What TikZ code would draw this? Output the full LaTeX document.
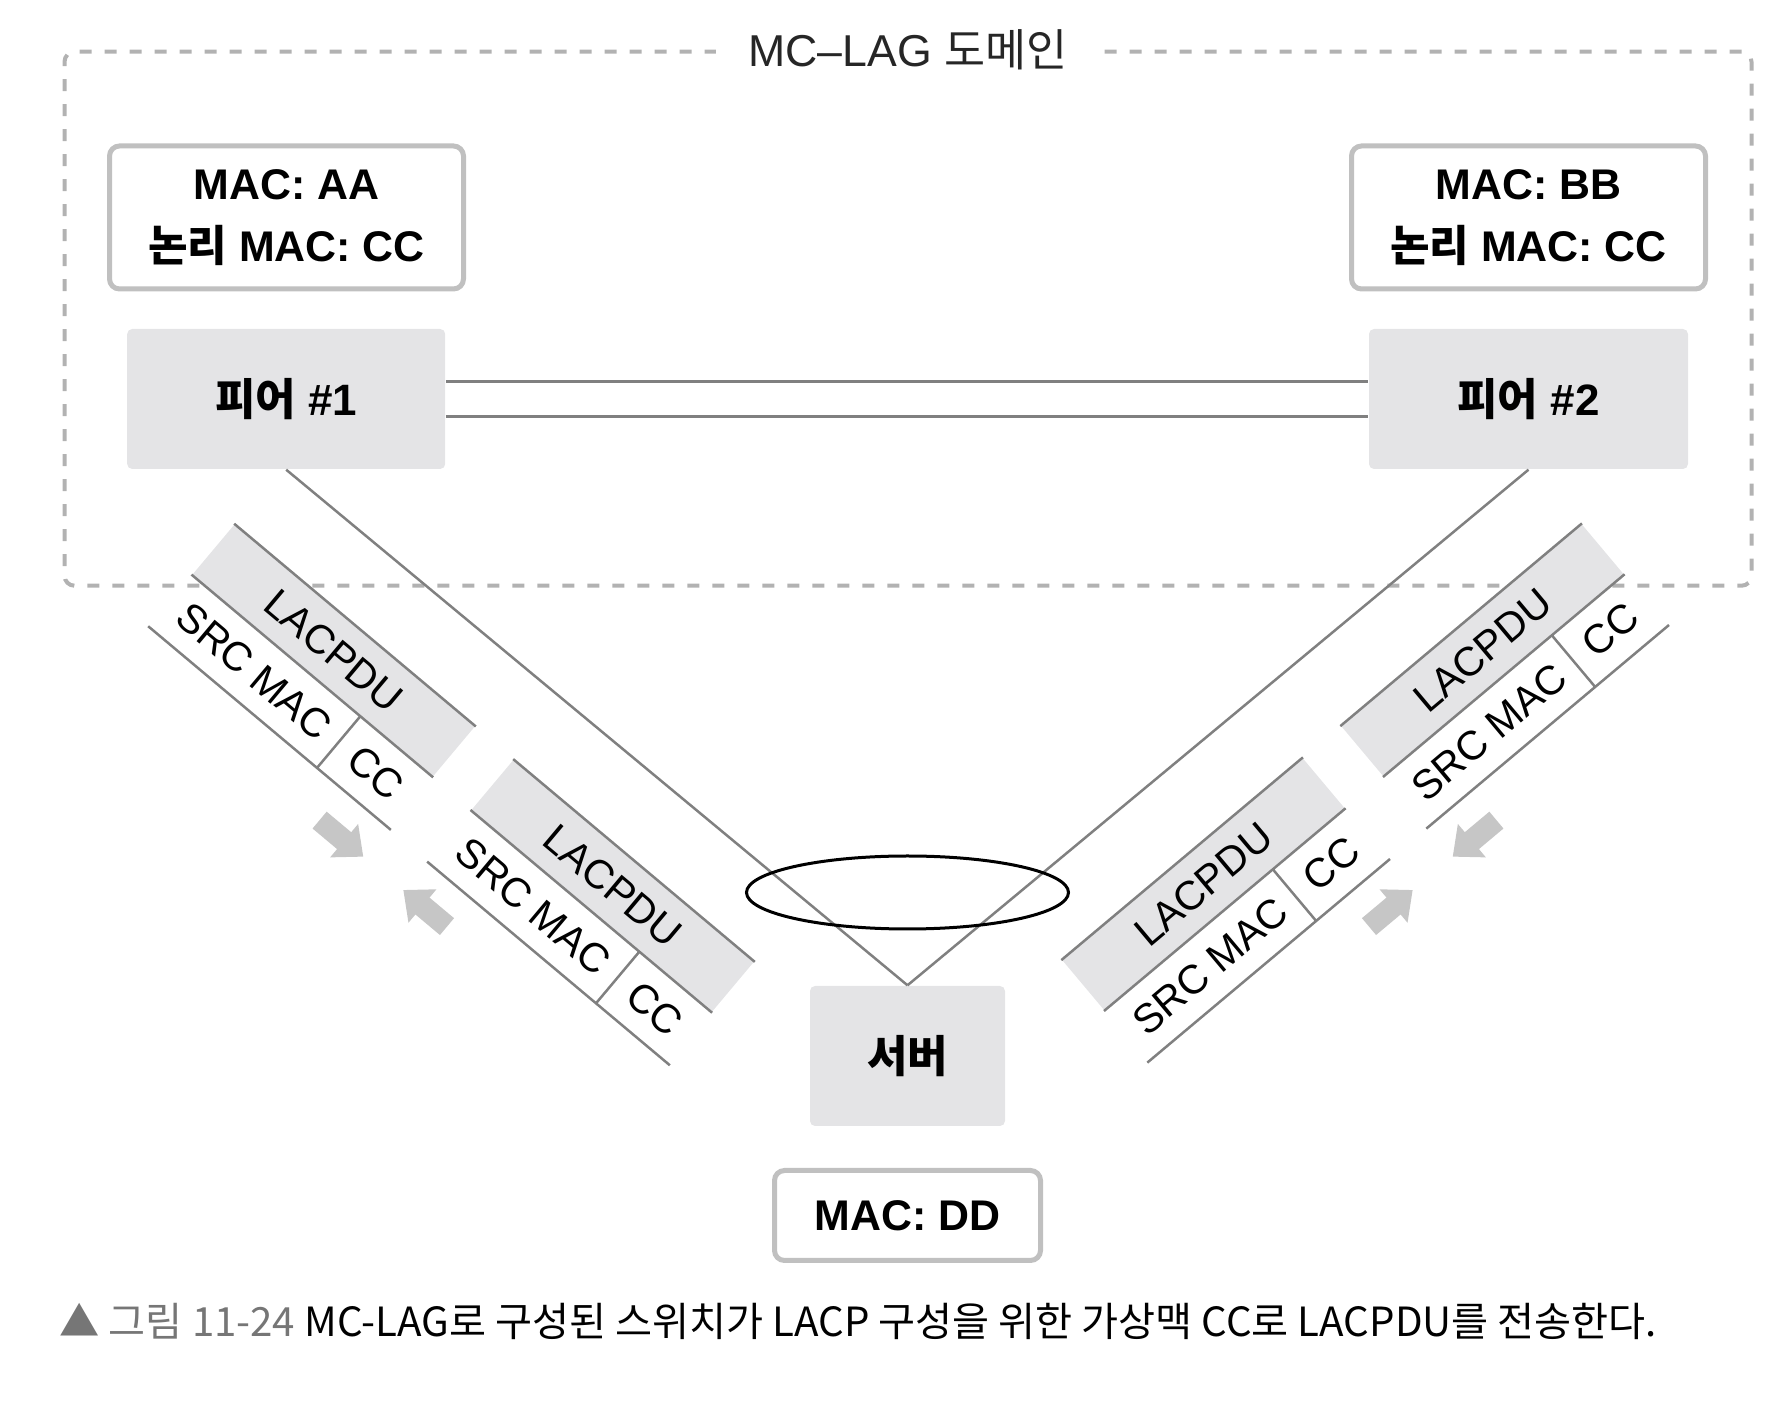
\documentclass[tikz,border=0pt]{standalone}
\usepackage{fontspec}
\setmainfont{Liberation Sans}
\newfontfamily\kr{Noto Sans CJK KR}
\usetikzlibrary{arrows.meta,shapes.geometric}
\definecolor{devgray}{RGB}{228,228,230}
\definecolor{edgegray}{RGB}{192,192,192}
\definecolor{dashgray}{RGB}{178,178,178}
\definecolor{wiregray}{RGB}{128,128,128}
\definecolor{arrowgray}{RGB}{198,198,198}
\definecolor{capgray}{RGB}{118,118,118}

\begin{document}
\begin{tikzpicture}[x=0.1mm, y=-0.1mm,
  lagzone/.style={draw=dashgray, line width=0.4mm, dash pattern=on 1.2mm off 1.3mm, rounded corners=1mm, minimum width=168.7mm, minimum height=53.4mm},
  zonetitle/.style={fill=white, inner xsep=3.2mm, text=black!85, font=\fontsize{12.7}{15}\selectfont},
  macbox/.style={draw=edgegray, line width=0.5mm, rounded corners=1mm, fill=white, align=center, font=\bfseries\fontsize{12.2}{17.6}\selectfont},
  device/.style={fill=devgray, rounded corners=0.5mm, minimum height=14mm, font=\bfseries\fontsize{12.5}{15}\selectfont},
  wire/.style={draw=wiregray, line width=0.25mm},
  lag/.style={draw=black, ellipse, line width=0.3mm, minimum width=32.2mm, minimum height=7.3mm, inner sep=0pt},
  pdu/.style={fill=devgray, inner sep=0pt, minimum width=31.4mm, minimum height=6.5mm, font=\fontsize{11.6}{14}\selectfont},
  fld/.style={inner sep=0pt, minimum height=6.6mm, font=\fontsize{11.6}{14}\selectfont},
  push/.style={draw=arrowgray, line width=2.2mm, -{Triangle[width=4.2mm, length=2.5mm]}},
  caption/.style={inner sep=0pt, anchor=west, font=\kr\fontsize{11.45}{13}\selectfont}]

  \useasboundingbox (0, 0) rectangle (1790, 1414);

  \node [lagzone] (zone) at (908, 318.75) {};
  \node [zonetitle] (ztitle) at (zone.north) {MC–LAG {\kr 도메인}};

  \node [macbox, minimum width=35.4mm, minimum height=14.3mm] (mac1) at (286.5, 217.5) {MAC: AA\\{\kr 논리} MAC: CC};
  \node [macbox, minimum width=35.4mm, minimum height=14.3mm] (mac2) at (1528.5, 217.5) {MAC: BB\\{\kr 논리} MAC: CC};
  \node [device, minimum width=31.8mm] (p1) at (286.2, 399) {{\kr 피어} \#1};
  \node [device, minimum width=31.9mm] (p2) at (1528.5, 399) {{\kr 피어} \#2};
  \node [device, minimum width=19.5mm] (srv) at (907.5, 1056) {{\kr 서버}};
  \node [macbox, minimum width=26.6mm, minimum height=9mm] (macd) at (907.5, 1215.5) {MAC: DD};

  \draw [wire, line width=0.3mm] ([yshift=1.77mm]p1.east) -- ([yshift=1.77mm]p2.west);
  \draw [wire, line width=0.3mm] ([yshift=-1.77mm]p1.east) -- ([yshift=-1.77mm]p2.west);
  \draw [wire] (p1.south) -- (srv.north);
  \draw [wire] (p2.south) -- (srv.north);
  \node [lag] (bundle) at (907.5, 892.5) {};

  \node [pdu, rotate=-40, anchor=south west] (pdu1) at (191.5, 574.6) {LACPDU};
  \node [fld, rotate=-40, anchor=north west, minimum width=21.9mm] (src1) at (pdu1.south west) {SRC MAC};
  \node [fld, rotate=-40, anchor=north west, minimum width=9.5mm] (cc1) at (src1.north east) {CC};
  \draw [wire] (pdu1.north west) -- (pdu1.north east) (pdu1.south west) -- (pdu1.south east)
    (src1.south west) -- (cc1.south east) (cc1.north west) -- (cc1.south west);

  \node [pdu, rotate=-40, anchor=south west] (pdu2) at (470.5, 810) {LACPDU};
  \node [fld, rotate=-40, anchor=north west, minimum width=21.9mm] (src2) at (pdu2.south west) {SRC MAC};
  \node [fld, rotate=-40, anchor=north west, minimum width=9.5mm] (cc2) at (src2.north east) {CC};
  \draw [wire] (pdu2.north west) -- (pdu2.north east) (pdu2.south west) -- (pdu2.south east)
    (src2.south west) -- (cc2.south east) (cc2.north west) -- (cc2.south west);

  \node [pdu, rotate=40, anchor=south west] (pdu3) at (1383, 777) {LACPDU};
  \node [fld, rotate=40, anchor=north west, minimum width=21.9mm] (src3) at (pdu3.south west) {SRC MAC};
  \node [fld, rotate=40, anchor=north west, minimum width=9.5mm] (cc3) at (src3.north east) {CC};
  \draw [wire] (pdu3.north west) -- (pdu3.north east) (pdu3.south west) -- (pdu3.south east)
    (src3.south west) -- (cc3.south east) (cc3.north west) -- (cc3.south west);

  \node [pdu, rotate=40, anchor=south west] (pdu4) at (1104, 1011) {LACPDU};
  \node [fld, rotate=40, anchor=north west, minimum width=21.9mm] (src4) at (pdu4.south west) {SRC MAC};
  \node [fld, rotate=40, anchor=north west, minimum width=9.5mm] (cc4) at (src4.north east) {CC};
  \draw [wire] (pdu4.north west) -- (pdu4.north east) (pdu4.south west) -- (pdu4.south east)
    (src4.south west) -- (cc4.south east) (cc4.north west) -- (cc4.south west);

  \coordinate (a1) at (319.6, 820.1);
  \coordinate (b1) at (363.3, 856.7);
  \coordinate (a2) at (447, 926.6);
  \coordinate (b2) at (403.3, 890);
  \coordinate (a3) at (1496.4, 820.1);
  \coordinate (b3) at (1452.7, 856.7);
  \coordinate (a4) at (1369, 926.6);
  \coordinate (b4) at (1412.7, 890);
  \draw [push] (a1) -- (b1);
  \draw [push] (a2) -- (b2);
  \draw [push] (a3) -- (b3);
  \draw [push] (a4) -- (b4);

  \node [caption] (cap) at (59, 1321) {{\color{capgray}▲ 그림 11-24} MC-LAG로 구성된 스위치가 LACP 구성을 위한 가상맥 CC로 LACPDU를 전송한다.};

\end{tikzpicture}
\end{document}
